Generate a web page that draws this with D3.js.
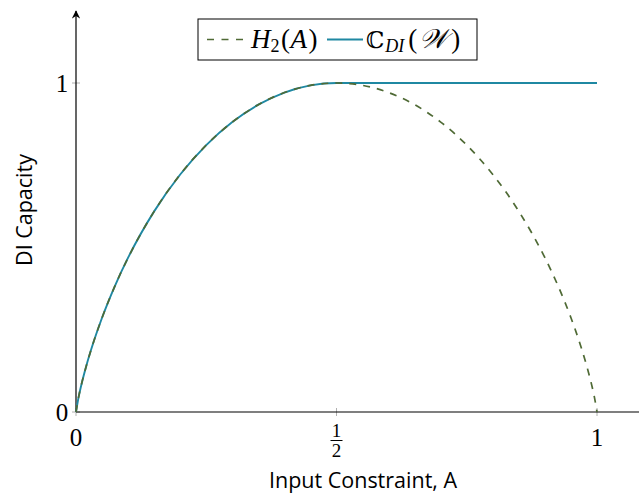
<!DOCTYPE html>
<html>
<head>
<meta charset="utf-8">
<script src="https://cdn.jsdelivr.net/npm/d3@7"></script>
<style>
  html, body { margin: 0; padding: 0; background: #fff; }
  svg { display: block; }
</style>
</head>
<body>
<svg id="chart" width="639" height="498"></svg>
<script>
// Input constraint A and the binary entropy H2(A)
const aValues = [0, 0.005, 0.01, 0.02, 0.03, 0.05, 0.075, 0.1, 0.15, 0.2, 0.25, 0.3, 0.35, 0.4, 0.45, 0.5,
                 0.55, 0.6, 0.65, 0.7, 0.75, 0.8, 0.85, 0.9, 0.925, 0.95, 0.97, 0.98, 0.99, 0.995, 1];
const h2Values = [0, 0.0454, 0.0808, 0.1414, 0.1944, 0.2864, 0.3843, 0.4690, 0.6098, 0.7219, 0.8113, 0.8813, 0.9341, 0.9710, 0.9928, 1,
                  0.9928, 0.9710, 0.9341, 0.8813, 0.8113, 0.7219, 0.6098, 0.4690, 0.3843, 0.2864, 0.1944, 0.1414, 0.0808, 0.0454, 0];
// DI capacity: follows H2 up to A = 1/2, then stays at 1
const capValues = [0, 0.0454, 0.0808, 0.1414, 0.1944, 0.2864, 0.3843, 0.4690, 0.6098, 0.7219, 0.8113, 0.8813, 0.9341, 0.9710, 0.9928, 1,
                   1, 1, 1, 1, 1, 1, 1, 1, 1, 1, 1, 1, 1, 1, 1];
const xTicks = [0, 0.5, 1];
const yTicks = [0, 1];

const svg = d3.select("#chart");
const x = d3.scaleLinear().domain([0, 1]).range([76, 597]);
const y = d3.scaleLinear().domain([0, 1]).range([412, 83]);

const olive = "#4f6a35";
const teal = "#1f88a2";
const serif = "'Liberation Serif', 'DejaVu Serif', serif";
const sans = "'Open Sans', Lato, sans-serif";

// Arrow marker for the y axis
svg.append("defs").append("marker")
  .attr("id", "arrow").attr("viewBox", "0 0 10 10")
  .attr("refX", 9).attr("refY", 5)
  .attr("markerWidth", 7).attr("markerHeight", 7)
  .attr("orient", "auto-start-reverse")
  .append("path").attr("d", "M0,0 L10,5 L0,10 L3,5 Z").attr("fill", "#000");

// Ticks (light grey, crossing the axes)
svg.append("g").selectAll("line").data(xTicks).join("line")
  .attr("x1", d => x(d)).attr("x2", d => x(d))
  .attr("y1", y(0) - 4).attr("y2", y(0) + 4)
  .attr("stroke", "#b0b0b0").attr("stroke-width", 1);
svg.append("g").selectAll("line").data(yTicks).join("line")
  .attr("x1", x(0) - 4).attr("x2", x(0) + 4)
  .attr("y1", d => y(d)).attr("y2", d => y(d))
  .attr("stroke", "#b0b0b0").attr("stroke-width", 1);

// Axis lines
svg.append("line").attr("x1", x(0)).attr("x2", 660)
  .attr("y1", y(0)).attr("y2", y(0)).attr("stroke", "#000").attr("stroke-width", 1.2);
svg.append("line").attr("x1", x(0)).attr("x2", x(0))
  .attr("y1", y(0)).attr("y2", 11).attr("stroke", "#000").attr("stroke-width", 1.2)
  .attr("marker-end", "url(#arrow)");

// Tick labels
svg.append("g").selectAll("text").data(yTicks).join("text")
  .attr("x", x(0) - 14).attr("y", d => y(d) + 8.5)
  .attr("text-anchor", "middle")
  .attr("font-family", serif).attr("font-size", 25)
  .text(d => d);

const xl = svg.append("g");
xl.selectAll("text.whole").data(xTicks.filter(d => d !== 0.5)).join("text")
  .attr("class", "whole")
  .attr("x", d => x(d)).attr("y", 446)
  .attr("text-anchor", "middle")
  .attr("font-family", serif).attr("font-size", 25)
  .text(d => d);
// 1/2 as a stacked fraction
const half = xl.append("g").attr("transform", `translate(${x(0.5)},0)`);
half.append("text").attr("y", 437).attr("text-anchor", "middle")
  .attr("font-family", serif).attr("font-size", 19).text("1");
half.append("line").attr("x1", -6).attr("x2", 6).attr("y1", 440.5).attr("y2", 440.5)
  .attr("stroke", "#000").attr("stroke-width", 1);
half.append("text").attr("y", 457).attr("text-anchor", "middle")
  .attr("font-family", serif).attr("font-size", 19).text("2");

// Axis titles
svg.append("text")
  .attr("transform", `translate(32,210) rotate(-90)`)
  .attr("text-anchor", "middle")
  .attr("font-family", sans).attr("font-size", 21.5)
  .text("DI Capacity");
svg.append("text")
  .attr("x", 363).attr("y", 488)
  .attr("text-anchor", "middle")
  .attr("font-family", sans).attr("font-size", 21.5)
  .text("Input Constraint, A");

// Curves
const rows = aValues.map((a, i) => ({ a, h: h2Values[i], c: capValues[i] }));
const line = key => d3.line().x(d => x(d.a)).y(d => y(d[key])).curve(d3.curveMonotoneX);

svg.append("path").datum(rows)
  .attr("d", line("c"))
  .attr("fill", "none").attr("stroke", teal).attr("stroke-width", 1.9);
svg.append("path").datum(rows)
  .attr("d", line("h"))
  .attr("fill", "none").attr("stroke", olive).attr("stroke-width", 1.7)
  .attr("stroke-dasharray", "7,7");

// Legend
const lg = svg.append("g");
lg.append("rect").attr("x", 198).attr("y", 19).attr("width", 279).attr("height", 41)
  .attr("fill", "#fff").attr("stroke", "#000").attr("stroke-width", 1);
lg.append("line").attr("x1", 207).attr("x2", 243).attr("y1", 39.5).attr("y2", 39.5)
  .attr("stroke", olive).attr("stroke-width", 1.7).attr("stroke-dasharray", "7,7.5");
const t1 = lg.append("text").attr("x", 251).attr("y", 48)
  .attr("font-family", serif).attr("font-size", 27);
t1.append("tspan").attr("font-style", "italic").text("H");
t1.append("tspan").attr("font-size", 18).attr("dy", 4).text("2");
t1.append("tspan").attr("dy", -4).attr("dx", 1.5).text("(");
t1.append("tspan").attr("font-style", "italic").attr("dx", 0.5).text("A");
t1.append("tspan").attr("dx", 1.5).text(")");
lg.append("line").attr("x1", 327).attr("x2", 363).attr("y1", 39.5).attr("y2", 39.5)
  .attr("stroke", teal).attr("stroke-width", 1.9);
const t2 = lg.append("text").attr("x", 366).attr("y", 48)
  .attr("font-family", serif).attr("font-size", 27);
t2.append("tspan").attr("font-family", "'DejaVu Serif', serif").attr("font-size", 23).text("\u2102");
t2.append("tspan").attr("font-style", "italic").attr("font-size", 18).attr("dy", 4).attr("dx", 1).text("DI");
t2.append("tspan").attr("dy", -4).attr("dx", 4).text("(");
t2.append("tspan").attr("font-family", "'DejaVu Sans', serif").attr("font-style", "italic").attr("dx", 2).text("\uD835\uDCB2");
t2.append("tspan").attr("dx", 4).text(")");
</script>
</body>
</html>
